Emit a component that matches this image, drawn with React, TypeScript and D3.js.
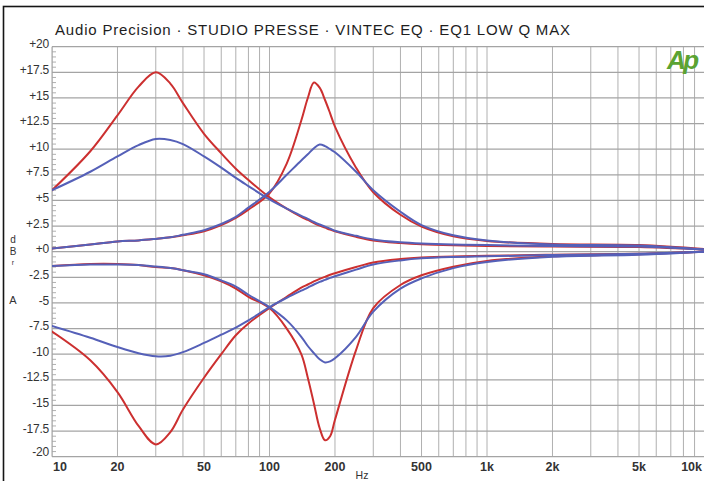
import React from "react";
import * as d3 from "d3";

// ---- data ----
const FREQS = [10, 15, 20, 25, 30, 35, 40, 50, 60, 70, 80, 100, 120, 140, 150, 160, 170, 180, 190, 200, 250, 300, 400, 500, 700, 1000, 2000, 5000, 10000];

const RED_LOW_BOOST = [6.0, 9.8, 13.3, 16.1, 17.5, 16.4, 14.5, 11.5, 9.6, 8.1, 7.0, 5.3, 4.2, 3.4, 3.1, 2.8, 2.55, 2.35, 2.15, 2.0, 1.45, 1.1, 0.85, 0.72, 0.62, 0.56, 0.5, 0.45, 0.2];
const BLUE_LOW_BOOST = [6.0, 7.8, 9.3, 10.4, 11.0, 10.9, 10.5, 9.3, 8.2, 7.2, 6.4, 5.1, 4.2, 3.5, 3.2, 2.9, 2.65, 2.45, 2.25, 2.05, 1.55, 1.2, 0.92, 0.8, 0.7, 0.65, 0.55, 0.5, 0.2];
const RED_HIGH_BOOST = [0.3, 0.7, 1.0, 1.1, 1.25, 1.4, 1.6, 2.0, 2.6, 3.3, 4.1, 5.7, 8.6, 12.8, 15.0, 16.5, 16.0, 14.8, 13.5, 12.2, 8.2, 5.8, 3.6, 2.45, 1.5, 1.05, 0.75, 0.65, 0.25];
const BLUE_HIGH_BOOST = [0.3, 0.7, 1.0, 1.1, 1.25, 1.4, 1.65, 2.1, 2.7, 3.4, 4.3, 5.85, 7.5, 8.9, 9.5, 10.1, 10.45, 10.3, 10.0, 9.7, 7.8, 6.0, 3.9, 2.6, 1.6, 1.1, 0.7, 0.6, 0.2];
const RED_LOW_CUT = [-7.8, -10.6, -13.7, -17.0, -18.8, -17.6, -15.4, -12.3, -10.0, -8.15, -7.0, -5.5, -4.4, -3.5, -3.2, -2.9, -2.65, -2.45, -2.25, -2.1, -1.5, -1.05, -0.72, -0.57, -0.46, -0.4, -0.3, -0.2, 0.0];
const BLUE_LOW_CUT = [-7.25, -8.4, -9.3, -9.9, -10.2, -10.15, -9.8, -8.9, -8.1, -7.4, -6.7, -5.4, -4.5, -3.8, -3.5, -3.2, -2.95, -2.75, -2.55, -2.4, -1.75, -1.25, -0.85, -0.65, -0.52, -0.45, -0.32, -0.2, 0.0];
const RED_HIGH_CUT = [-1.4, -1.2, -1.2, -1.3, -1.5, -1.6, -1.8, -2.3, -2.9, -3.6, -4.4, -5.5, -7.5, -10.0, -12.3, -14.8, -17.2, -18.4, -18.0, -16.4, -9.6, -5.5, -3.25, -2.3, -1.46, -0.9, -0.45, -0.25, 0.0];
const BLUE_HIGH_CUT = [-1.4, -1.25, -1.25, -1.3, -1.45, -1.6, -1.8, -2.2, -2.8, -3.4, -4.2, -5.4, -6.7, -8.3, -9.2, -9.9, -10.5, -10.8, -10.7, -10.4, -8.3, -5.85, -3.6, -2.6, -1.6, -1.0, -0.5, -0.3, 0.0];

const X_TICKS = [10, 20, 50, 100, 200, 500, 1000, 2000, 5000, 10000];
const X_TICK_LABELS = ["10", "20", "50", "100", "200", "500", "1k", "2k", "5k", "10k"];
const Y_TICKS = [20, 17.5, 15, 12.5, 10, 7.5, 5, 2.5, 0, -2.5, -5, -7.5, -10, -12.5, -15, -17.5, -20];
const Y_TICK_LABELS = ["+20", "+17.5", "+15", "+12.5", "+10", "+7.5", "+5", "+2.5", "+0", "-2.5", "-5", "-7.5", "-10", "-12.5", "-15", "-17.5", "-20"];

const TITLE = "Audio Precision \u00b7 STUDIO PRESSE \u00b7 VINTEC EQ  \u00b7 EQ1 LOW Q MAX";

const RED = "#cc3030";
const BLUE = "#5560b8";

const SERIES = [
  { values: RED_LOW_BOOST, color: RED },
  { values: RED_HIGH_BOOST, color: RED },
  { values: RED_LOW_CUT, color: RED },
  { values: RED_HIGH_CUT, color: RED },
  { values: BLUE_LOW_BOOST, color: BLUE },
  { values: BLUE_HIGH_BOOST, color: BLUE },
  { values: BLUE_LOW_CUT, color: BLUE },
  { values: BLUE_HIGH_CUT, color: BLUE },
];

const W = 704;
const H = 481;
const LEFT = 52;
const RIGHT = 704.5;
const TOP = 46.7;
const BOTTOM = 456.7;

const SANS = "'Liberation Sans', Arial, sans-serif";
const NARROW = "'Liberation Sans Narrow', 'Arial Narrow', 'Liberation Sans', Arial, sans-serif";

export default function App() {
  const x = d3.scaleLog().domain([10, 10000]).range([LEFT, RIGHT]);
  const y = d3.scaleLinear().domain([-20, 20]).range([BOTTOM, TOP]);

  const vGrid: number[] = [];
  [10, 100, 1000].forEach((dec) => {
    for (let m = 1; m <= 9; m++) vGrid.push(m * dec);
  });
  vGrid.push(10000);

  const minor: number[] = d3.range(-20, 20.01, 0.5).filter((v) => Math.abs(v / 2.5 - Math.round(v / 2.5)) > 1e-6);

  const line = d3
    .line<[number, number]>()
    .x((d) => x(d[0]))
    .y((d) => y(d[1]))
    .curve(d3.curveCatmullRom.alpha(0.5));

  return (
    <div style={{ position: "absolute", left: 0, top: 0 }}>
      <svg width={W} height={H} style={{ display: "block", background: "#fff" }}>
        <defs>
          <clipPath id="plotclip">
            <rect x={LEFT} y={TOP - 2} width={RIGHT - LEFT} height={BOTTOM - TOP + 4} />
          </clipPath>
        </defs>
        <rect x={0} y={0} width={W} height={H} fill="#fff" />
        {/* outer frame */}
        <rect x={3.5} y={6.5} width={W + 20} height={H + 20} fill="none" stroke="#151515" strokeWidth={1.6} />

        {/* title */}
        <text x={55} y={35} fontFamily={SANS} fontSize={15} fill="#1e1e1e" textLength={515} lengthAdjust="spacing">
          {TITLE}
        </text>

        {/* grid */}
        <g clipPath="url(#plotclip)">
          {vGrid.map((f) => (
            <line key={"v" + f} x1={x(f)} x2={x(f)} y1={TOP} y2={BOTTOM} stroke="#b0b0b0" strokeWidth={1} />
          ))}
          {Y_TICKS.map((v) => (
            <line key={"h" + v} x1={LEFT} x2={RIGHT} y1={y(v)} y2={y(v)} stroke="#a4a4a4" strokeWidth={1.3} />
          ))}
          {minor.map((v) => (
            <line key={"m" + v} x1={LEFT} x2={LEFT + 4} y1={y(v)} y2={y(v)} stroke="#b0b0b0" strokeWidth={1} />
          ))}
        </g>
        <line x1={LEFT} x2={LEFT} y1={TOP} y2={BOTTOM} stroke="#a0a0a0" strokeWidth={1} />

        {/* curves */}
        <g clipPath="url(#plotclip)" fill="none" strokeLinejoin="round" strokeLinecap="round">
          {SERIES.map((s, i) => (
            <path
              key={i}
              d={line(FREQS.map((f, j) => [f, s.values[j]] as [number, number])) || ""}
              stroke={s.color}
              strokeWidth={2}
            />
          ))}
        </g>

        {/* y tick labels */}
        {Y_TICKS.map((v, i) => (
          <text
            key={"yl" + v}
            x={49}
            y={y(v) - (v === -20 ? 4 : 1.5)}
            textAnchor="end"
            dominantBaseline="middle"
            fontFamily={SANS}
            fontSize={12}
            fill="#333"
            letterSpacing={-0.2}
          >
            {Y_TICK_LABELS[i]}
          </text>
        ))}

        {/* x tick labels */}
        {X_TICKS.map((f, i) => {
          const px = x(f);
          let anchor = "middle";
          let xx = px;
          if (i === 0) {
            anchor = "start";
            xx = px + 1;
          } else if (i === X_TICKS.length - 1) {
            anchor = "end";
            xx = 702;
          }
          return (
            <text
              key={"xl" + f}
              x={xx}
              y={471}
              textAnchor={anchor}
              fontFamily={NARROW}
              fontSize={12.5}
              fontWeight="bold"
              fill="#333"
            >
              {X_TICK_LABELS[i]}
            </text>
          );
        })}
        <text x={362} y={479} textAnchor="middle" fontFamily={NARROW} fontSize={10.5} fill="#333">
          Hz
        </text>

        {/* y axis unit */}
        <g fontFamily={SANS} fill="#333" textAnchor="middle">
          <text x={13} y={243} fontSize={10}>d</text>
          <text x={13} y={255} fontSize={10}>B</text>
          <text x={13} y={265} fontSize={7}>r</text>
          <text x={13} y={304} fontSize={11}>A</text>
        </g>

        {/* Ap logo */}
        <text
          x={667}
          y={69}
          fontFamily={SANS}
          fontSize={26}
          fontWeight="bold"
          fontStyle="italic"
          fill="#5ba332"
          letterSpacing={-2.5}
        >
          Ap
        </text>
      </svg>
    </div>
  );
}
